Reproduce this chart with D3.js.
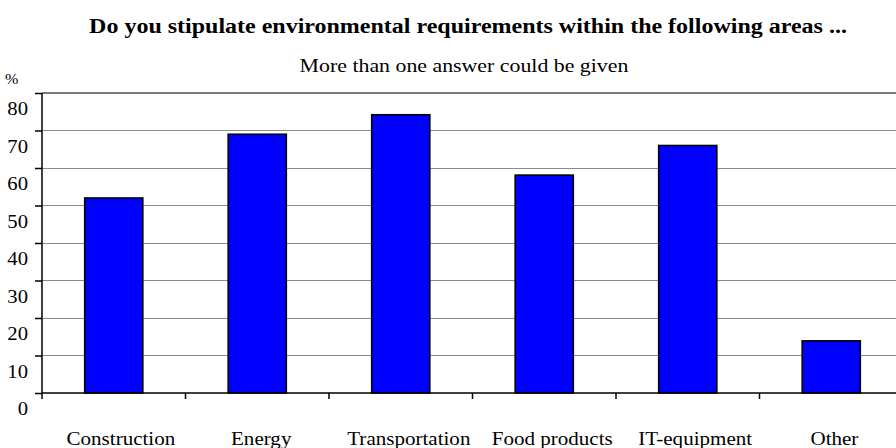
<!DOCTYPE html>
<html>
<head>
<meta charset="utf-8">
<script src="https://cdn.jsdelivr.net/npm/d3@7"></script>
<style>
html,body{margin:0;padding:0;background:#fff;}
svg{display:block;}
text{font-family:"Liberation Serif","Times New Roman",serif;fill:#000;}
</style>
</head>
<body>
<svg id="chart" width="896" height="448"></svg>
<script>
const categories = ["Construction","Energy","Transportation","Food products","IT-equipment","Other"];
const values = [52, 69, 74.2, 58.1, 66, 13.9];
const yTicks = [0,10,20,30,40,50,60,70,80];
const title = "Do you stipulate environmental requirements within the following areas ...";
const subtitle = "More than one answer could be given";
const unitLabel = "%";

(function () {
const W = 896, H = 448;
const mLeft = 42, mRight = 903, mTop = 93, mBottom = 393;
const SX = 1.15;

const svg = d3.select("#chart");

const x = d3.scaleBand().domain(categories).range([mLeft, mRight]).padding(0);
const y = d3.scaleLinear().domain([0, 80]).range([mBottom, mTop]);

function stretchedText(g, tx, ty, str, anchor, size, weight, sx) {
  return g.append("text")
    .attr("transform", `translate(${tx},${ty}) scale(${sx || SX},1)`)
    .attr("text-anchor", anchor)
    .style("font-size", size + "px")
    .style("font-weight", weight || "normal")
    .text(str);
}

// gridlines
svg.append("g").selectAll("line").data(yTicks.filter(d => d > 0)).join("line")
  .attr("x1", mLeft).attr("x2", W)
  .attr("y1", d => y(d)).attr("y2", d => y(d))
  .attr("stroke", d => d === 80 ? "#7a7a7a" : "#8c8c8c")
  .attr("stroke-width", d => d === 80 ? 2 : 1)
  .attr("shape-rendering", "crispEdges");

// bars
const bw = x.bandwidth() * 0.405;
svg.append("g").selectAll("rect").data(categories).join("rect")
  .attr("x", d => x(d) + (x.bandwidth() - bw) / 2)
  .attr("y", (d, i) => y(values[i]))
  .attr("width", bw)
  .attr("height", (d, i) => y(0) - y(values[i]))
  .attr("fill", "#0000ff")
  .attr("stroke", "#000")
  .attr("stroke-width", 1.6);

// y axis
const yAxis = d3.axisLeft(y).tickValues(yTicks).tickSize(7).tickFormat("");
const ya = svg.append("g").attr("transform", `translate(${mLeft},0)`).call(yAxis);
ya.selectAll("path,line").attr("stroke", "#000").attr("stroke-width", 1.5);
ya.select(".domain").attr("d", `M0,${mTop}V${mBottom}`);

// x axis
const boundaries = categories.map(c => x(c)).concat([mRight]);
svg.append("line").attr("x1", mLeft).attr("x2", W).attr("y1", mBottom).attr("y2", mBottom)
  .attr("stroke", "#000").attr("stroke-width", 1.5);
svg.append("g").selectAll("line").data(boundaries).join("line")
  .attr("x1", d => d).attr("x2", d => d).attr("y1", mBottom).attr("y2", mBottom + 6)
  .attr("stroke", "#000").attr("stroke-width", 1.5);

// y tick labels (placed below their gridlines like the original)
const yl = svg.append("g");
yTicks.forEach(t => stretchedText(yl, 28, y(t) + 22, String(t), "end", 18));

// category labels: laid out centred, then stretched from their left edge
const xl = svg.append("g");
categories.forEach(c => {
  const t = xl.append("text")
    .attr("text-anchor", "start")
    .style("font-size", "18.3px")
    .text(c);
  const len = t.node().getComputedTextLength();
  const cx = x(c) + x.bandwidth() / 2;
  t.attr("transform", `translate(${cx - len / 2},445) scale(${SX},1)`);
});

// titles
stretchedText(svg, 468, 33, title, "middle", 20, "bold", 1.2);
stretchedText(svg, 464, 72, subtitle, "middle", 19);
stretchedText(svg, 5, 84, unitLabel, "start", 14);
})();
</script>
</body>
</html>
